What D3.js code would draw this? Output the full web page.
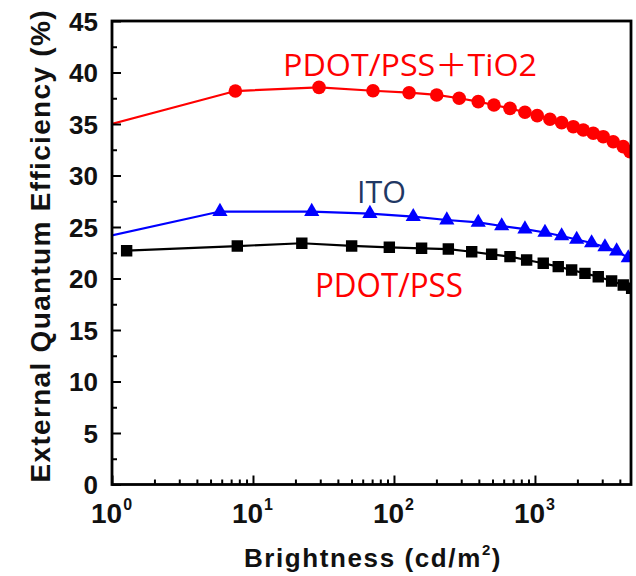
<!DOCTYPE html>
<html>
<head>
<meta charset="utf-8">
<script src="https://cdn.jsdelivr.net/npm/d3@7"></script>
<style>
  body { margin: 0; background: #fff; }
  svg { display: block; }
</style>
</head>
<body>
<svg id="chart" width="636" height="576"></svg>
<script>
// values (brightness in cd/m2, EQE in %)
var redX = [0.8, 7.5, 29.4, 71, 128, 201, 290, 396, 512, 665, 849, 1038, 1277, 1546, 1870, 2202, 2591, 3050, 3591, 4230, 4720];
var redY = [34.65, 38.2, 38.56, 38.23, 38.04, 37.82, 37.5, 37.17, 36.84, 36.52, 36.14, 35.81, 35.46, 35.13, 34.74, 34.42, 34.1, 33.77, 33.28, 32.8, 32.31];

var blueX = [0.8, 5.83, 26.1, 67.5, 137, 237, 396, 581, 849, 1178, 1546, 1977, 2523, 3136, 3797, 4590];
var blueY = [23.9, 26.5, 26.5, 26.3, 26.0, 25.68, 25.44, 25.1, 24.8, 24.47, 24.13, 23.79, 23.45, 23.06, 22.67, 22.0];

var blackX = [1.27, 7.74, 22.2, 50.1, 92.7, 157, 243, 356, 493, 665, 873, 1145, 1463, 1821, 2263, 2812, 3498, 4230, 4850];
var blackY = [22.7, 23.15, 23.42, 23.16, 23.03, 22.93, 22.86, 22.6, 22.35, 22.12, 21.8, 21.48, 21.15, 20.83, 20.5, 20.17, 19.76, 19.37, 19.05];

var xMajor = [1, 10, 100, 1000];
var xExp = ["0", "1", "2", "3"];
var yMajor = [0, 5, 10, 15, 20, 25, 30, 35, 40, 45];

var plotLeft = 112, plotRight = 631, plotTop = 21, plotBottom = 484.5;

var svg = d3.select("#chart");

var x = d3.scaleLog().domain([1, 4800]).range([plotLeft, plotRight]);
var y = d3.scaleLinear().domain([0, 45]).range([plotBottom, plotTop]);

// minor ticks
var xMinor = [];
[1, 10, 100, 1000].forEach(function (d) {
    for (var k = 2; k <= 9; k++) {
        if (d * k < 4800) xMinor.push(d * k);
    }
});
var yMinor = yMajor.slice(0, -1).map(function (d) { return d + 2.5; });

svg.append("defs").append("clipPath").attr("id", "plotclip")
    .append("rect")
    .attr("x", plotLeft).attr("y", plotTop)
    .attr("width", plotRight - plotLeft).attr("height", plotBottom - plotTop);

// series
var series = [
    {xs: redX, ys: redY, color: "#ff0000", symbol: d3.symbolCircle, size: 145},
    {xs: blueX, ys: blueY, color: "#0000ff", symbol: d3.symbolTriangle, size: 100},
    {xs: blackX, ys: blackY, color: "#000000", symbol: d3.symbolSquare, size: 130}
];

var plot = svg.append("g").attr("clip-path", "url(#plotclip)");

var line = d3.line()
    .x(function (d) { return x(d[0]); })
    .y(function (d) { return y(d[1]); });

series.forEach(function (s) {
    var pts = s.xs.map(function (v, i) { return [v, s.ys[i]]; });
    plot.append("path")
        .datum(pts)
        .attr("d", line)
        .attr("fill", "none")
        .attr("stroke", s.color)
        .attr("stroke-width", 2.2);
    plot.selectAll(null)
        .data(pts)
        .enter()
        .append("path")
        .attr("transform", function (d) { return "translate(" + x(d[0]) + "," + y(d[1]) + ")"; })
        .attr("d", d3.symbol().type(s.symbol).size(s.size))
        .attr("fill", s.color);
});

// axes (ticks point inward)
var xAxisMajor = svg.append("g")
    .attr("transform", "translate(0," + plotBottom + ")")
    .call(d3.axisBottom(x).tickValues(xMajor).tickSize(-9).tickPadding(20).tickFormat(function () { return ""; }));
svg.append("g")
    .attr("transform", "translate(0," + plotBottom + ")")
    .call(d3.axisBottom(x).tickValues(xMinor).tickSize(-5).tickFormat(function () { return ""; }));

var yAxisMajor = svg.append("g")
    .attr("transform", "translate(" + plotLeft + ",0)")
    .call(d3.axisLeft(y).tickValues(yMajor).tickSize(-9).tickPadding(14));
svg.append("g")
    .attr("transform", "translate(" + plotLeft + ",0)")
    .call(d3.axisLeft(y).tickValues(yMinor).tickSize(-5).tickFormat(function () { return ""; }));

svg.selectAll(".domain").remove();
svg.selectAll(".tick line").attr("stroke", "#000").attr("stroke-width", 2);

yAxisMajor.selectAll(".tick text")
    .attr("font-family", "'Liberation Sans', Arial, sans-serif")
    .attr("font-weight", "bold")
    .attr("font-size", 26)
    .attr("fill", "#111")
    .attr("dy", "0.36em");

xAxisMajor.selectAll(".tick text")
    .attr("font-family", "'Liberation Sans', Arial, sans-serif")
    .attr("font-weight", "bold")
    .attr("font-size", 28)
    .attr("fill", "#111")
    .attr("y", 38.5)
    .attr("dy", 0)
    .attr("x", -1)
    .each(function (d, i) {
        var t = d3.select(this);
        t.append("tspan").text("10");
        t.append("tspan").attr("font-size", 16).attr("dy", -13).attr("dx", 1).text(xExp[i]);
    });

// frame
svg.append("rect")
    .attr("x", plotLeft).attr("y", plotTop)
    .attr("width", plotRight - plotLeft).attr("height", plotBottom - plotTop)
    .attr("fill", "none")
    .attr("stroke", "#000")
    .attr("stroke-width", 2.8);

// axis titles
var xt = svg.append("text")
    .attr("x", 373).attr("y", 567)
    .attr("text-anchor", "middle")
    .attr("font-family", "'Liberation Sans', Arial, sans-serif")
    .attr("font-weight", "bold")
    .attr("font-size", 26)
    .attr("letter-spacing", 1.6)
    .attr("fill", "#111");
xt.append("tspan").text("Brightness (cd/m");
xt.append("tspan").attr("font-size", 15).attr("dy", -12).text("2");
xt.append("tspan").attr("dy", 12).text(")");

svg.append("text")
    .attr("transform", "translate(50,246.5) rotate(-90)")
    .attr("text-anchor", "middle")
    .attr("font-family", "'Liberation Sans', Arial, sans-serif")
    .attr("font-weight", "bold")
    .attr("font-size", 28)
    .attr("textLength", 472)
    .attr("lengthAdjust", "spacing")
    .attr("fill", "#111")
    .text("External Quantum Efficiency (%)");

// curve labels
var annFont = "'Open Sans', 'Noto Sans', 'Noto Sans CJK SC', sans-serif";
svg.append("text")
    .attr("x", 283).attr("y", 76)
    .attr("font-family", annFont)
    .attr("font-size", 31)
    .attr("textLength", 254)
    .attr("lengthAdjust", "spacingAndGlyphs")
    .attr("fill", "#ff0000")
    .text("PDOT/PSS\uFF0BTiO2");

svg.append("text")
    .attr("x", 357).attr("y", 203)
    .attr("font-family", annFont)
    .attr("font-size", 31)
    .attr("textLength", 49)
    .attr("lengthAdjust", "spacingAndGlyphs")
    .attr("fill", "#1f3864")
    .text("ITO");

svg.append("text")
    .attr("x", 315).attr("y", 297)
    .attr("font-family", annFont)
    .attr("font-size", 32)
    .attr("textLength", 148)
    .attr("lengthAdjust", "spacingAndGlyphs")
    .attr("fill", "#ff0000")
    .text("PDOT/PSS");
</script>
</body>
</html>
